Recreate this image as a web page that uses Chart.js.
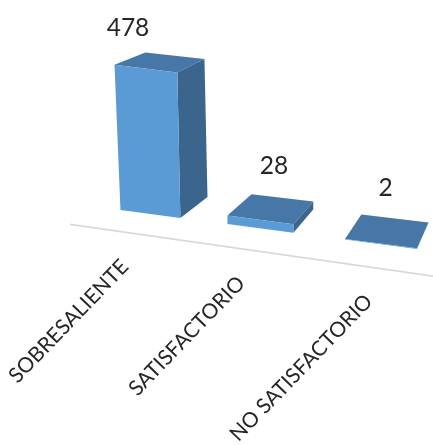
<!DOCTYPE html>
<html>
<head>
<meta charset="utf-8">
<title>Resultados</title>
<script src="https://cdn.jsdelivr.net/npm/chart.js@4/dist/chart.umd.min.js"></script>
<style>
  html, body { margin: 0; padding: 0; background: #fff; }
  canvas { display: block; }
</style>
</head>
<body>
<canvas id="grafico" width="433" height="445"></canvas>
<script>
const categorias = ["SOBRESALIENTE", "SATISFACTORIO", "NO SATISFACTORIO"];
const valores = [478, 28, 2];

// nudges for the value labels, the first one sits off to the left of its bar
const ajusteEtiquetas = [[-32, -34], [3, -43], [-2, -43]];

const colorFrente = "#5b9bd5";
const colorArriba = "#4677a6";
const colorLado = "#3b658c";
const colorTexto = "#262626";
const colorEje = "#d9d9d9";

// floor of the 3d box: t is the category position, d the depth (0 front, 1 back)
function suelo(t, d) {
  const xf = 150 + 104.75 * t + 5.25 * t * t;
  const xb = 179 + 98.25 * t + 4.75 * t * t;
  const yf = 210 + 0.1313 * (xf - 120);
  const yb = 197 + 0.1176 * (xb - 207);
  return [xf + (xb - xf) * d, yf + (yb - yf) * d];
}

// h is the bar height in pixels coming from the y scale
function punto(t, d, h) {
  const [x, y] = suelo(t, d);
  return [x - h * (0.031 - 0.035 * t), y - h * (1 - 0.05 * d)];
}

function cara(ctx, puntos, color) {
  ctx.beginPath();
  puntos.forEach((p, i) => (i ? ctx.lineTo(p[0], p[1]) : ctx.moveTo(p[0], p[1])));
  ctx.closePath();
  ctx.fillStyle = color;
  ctx.fill();
}

const barras3d = {
  id: "barras3d",
  afterDatasetsDraw(chart) {
    const ctx = chart.ctx;
    const escalaX = chart.scales.x;
    const origen = escalaX.getPixelForValue(0);
    const paso = escalaX.getPixelForValue(1) - origen;

    ctx.save();

    // axis line on the floor, in front of the bars
    const ini = suelo(-0.5, -0.9);
    const fin = suelo(2.5, -0.9);
    ctx.beginPath();
    ctx.moveTo(ini[0], ini[1]);
    ctx.lineTo(fin[0], fin[1]);
    ctx.strokeStyle = colorEje;
    ctx.lineWidth = 1.8;
    ctx.stroke();

    chart.getDatasetMeta(0).data.forEach((barra, i) => {
      const t = (barra.x - origen) / paso;
      const m = barra.width / 2 / paso;
      const h = barra.base - barra.y;

      cara(ctx, [punto(t - m, 0, h), punto(t + m, 0, h), punto(t + m, 1, h), punto(t - m, 1, h)], colorArriba);
      cara(ctx, [punto(t + m, 0, h), punto(t + m, 0, 0), punto(t + m, 1, 0), punto(t + m, 1, h)], colorLado);
      cara(ctx, [punto(t - m, 0, h), punto(t + m, 0, h), punto(t + m, 0, 0), punto(t - m, 0, 0)], colorFrente);

      // value above the bar
      const centro = punto(t, 0.5, h);
      ctx.fillStyle = colorTexto;
      ctx.font = "24.5px Lato";
      ctx.textAlign = "center";
      ctx.textBaseline = "middle";
      ctx.fillText(String(valores[i]), centro[0] + ajusteEtiquetas[i][0], centro[1] + ajusteEtiquetas[i][1]);

      // category name, rotated and ending under the axis line
      const eje = suelo(t, -0.9);
      ctx.save();
      ctx.translate(eje[0] + 1, eje[1] + 31);
      ctx.rotate(-46 * Math.PI / 180);
      ctx.font = "21px Lato";
      ctx.textAlign = "right";
      ctx.textBaseline = "middle";
      ctx.fillText(categorias[i], 0, 0);
      ctx.restore();
    });

    ctx.restore();
  },
};

new Chart(document.getElementById("grafico"), {
  type: "bar",
  data: {
    labels: categorias,
    datasets: [
      {
        data: valores,
        backgroundColor: "rgba(0,0,0,0)",
        barPercentage: 0.572,
        categoryPercentage: 1,
      },
    ],
  },
  options: {
    responsive: false,
    animation: false,
    layout: { padding: { left: 95, right: 8, top: 58, bottom: 235 } },
    plugins: { legend: { display: false }, tooltip: { enabled: false } },
    scales: {
      x: { display: false },
      y: { display: false, min: 0, max: 500 },
    },
  },
  plugins: [barras3d],
});
</script>
</body>
</html>
